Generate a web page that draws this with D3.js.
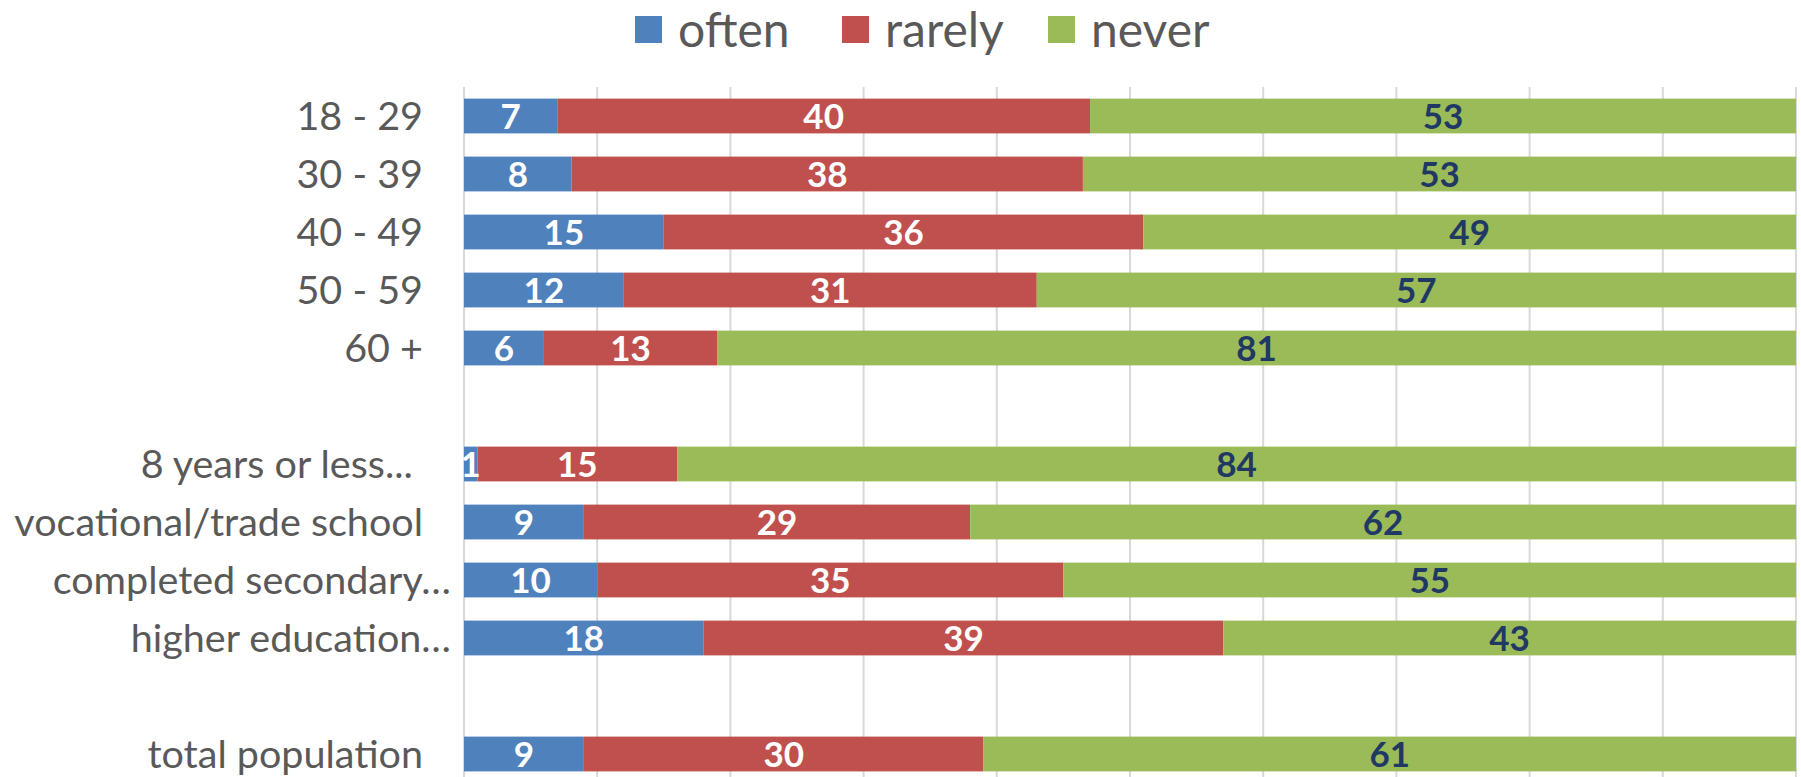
<!DOCTYPE html>
<html>
<head>
<meta charset="utf-8">
<script src="https://cdn.jsdelivr.net/npm/d3@7"></script>
<style>
html,body{margin:0;padding:0;background:#fff;}
svg{display:block;}
text{font-family:Lato,"Open Sans",sans-serif;}
</style>
</head>
<body>
<svg id="chart" width="1801" height="777"></svg>
<script>
const categories = ["18 - 29","30 - 39","40 - 49","50 - 59","60 +","gap1","8 years or less... ","vocational/trade school","completed secondary…","higher education…","gap2","total population"];
const seriesNames = ["often","rarely","never"];
const often  = [7, 8, 15, 12, 6, null, 1, 9, 10, 18, null, 9];
const rarely = [40, 38, 36, 31, 13, null, 15, 29, 35, 39, null, 30];
const never  = [53, 53, 49, 57, 81, null, 84, 62, 55, 43, null, 61];
const xTicks = [0,10,20,30,40,50,60,70,80,90,100];
const colors = ["#4F81BD","#C0504D","#9BBB59"];
const labelColors = ["#FFFFFF","#FFFFFF","#1F3864"];

(function(){
const svg = d3.select("#chart");
const W = 1801, H = 777;
const pLeft = 464, pRight = 1796, pTop = 87, pBottom = 783;

const rows = categories.map((c,i)=>({cat:c, often:often[i], rarely:rarely[i], never:never[i]}));
const dataRows = rows.filter(r=>r.often!==null);

const x = d3.scaleLinear().domain([0,1]).range([pLeft,pRight]);
const y = d3.scaleBand().domain(categories).range([pTop,pBottom]).paddingInner(0.4).paddingOuter(0.2);

svg.append("g").selectAll("line").data(xTicks).join("line")
  .attr("x1",d=>x(d/100)).attr("x2",d=>x(d/100))
  .attr("y1",pTop).attr("y2",H)
  .attr("stroke","#D9D9D9").attr("stroke-width",2);

const stack = d3.stack().keys(seriesNames).offset(d3.stackOffsetExpand);
const stacked = stack(dataRows);

const g = svg.append("g");
stacked.forEach((s,si)=>{
  g.append("g").selectAll("rect").data(s).join("rect")
    .attr("x",d=>x(d[0])).attr("width",d=>x(d[1])-x(d[0]))
    .attr("y",d=>y(d.data.cat)).attr("height",y.bandwidth())
    .attr("fill",colors[si]);
});
stacked.forEach((s,si)=>{
  g.append("g").selectAll("text").data(s).join("text")
    .attr("x",d=>(x(d[0])+x(d[1]))/2)
    .attr("y",d=>y(d.data.cat)+y.bandwidth()/2)
    .attr("dy","0.36em")
    .attr("text-anchor","middle")
    .attr("font-size",35).attr("font-weight",700)
    .attr("fill",labelColors[si])
    .text(d=>d.data[seriesNames[si]]);
});

svg.append("g").selectAll("text").data(categories.filter(c=>!c.startsWith("gap"))).join("text")
  .attr("x",d=> d.endsWith("…") ? 451 : 423)
  .attr("y",d=>y(d)+y.bandwidth()/2)
  .attr("dy","0.36em")
  .attr("text-anchor","end")
  .attr("font-size",39.5)
  .attr("fill","#595959")
  .style("white-space","pre")
  .text(d=>d);

const legendX = [635, 842, 1048];
const lg = svg.append("g");
seriesNames.forEach((n,i)=>{
  lg.append("rect").attr("x",legendX[i]).attr("y",16).attr("width",27).attr("height",27).attr("fill",colors[i]);
  lg.append("text").attr("x",legendX[i]+43).attr("y",30).attr("dy","0.36em")
    .attr("font-size",48).attr("fill","#595959").text(n);
});
})();
</script>
</body>
</html>
